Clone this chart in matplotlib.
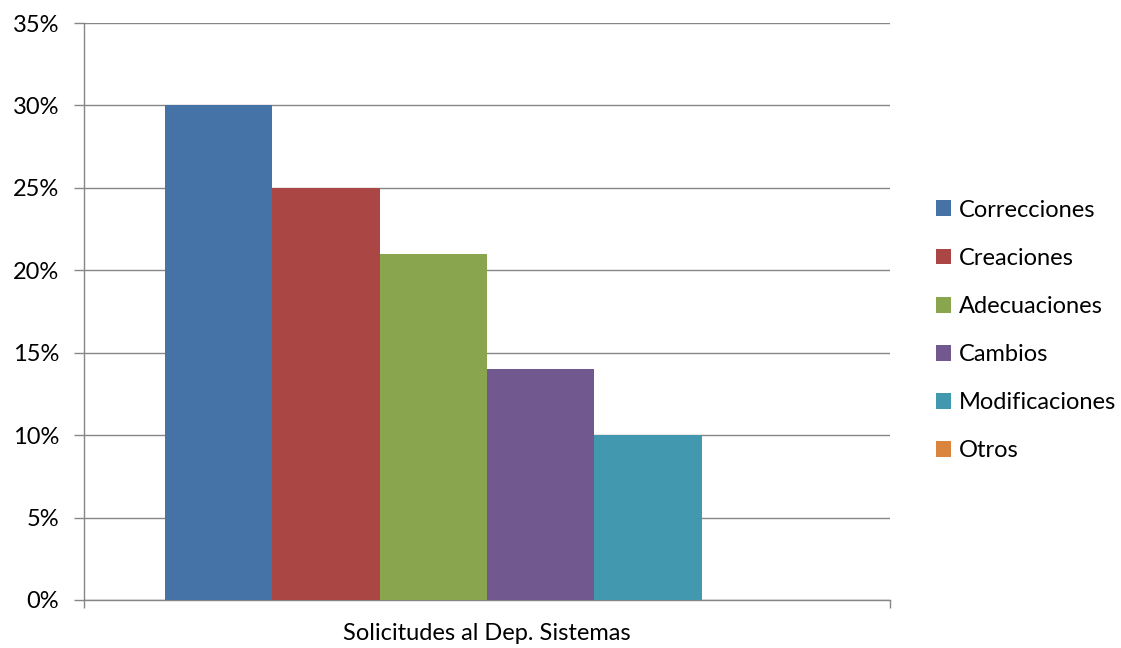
import matplotlib.pyplot as plt
from matplotlib.ticker import FuncFormatter

plt.rcParams['font.family'] = ['Lato', 'DejaVu Sans']

# datos del grafico
categoria = 'Solicitudes al Dep. Sistemas'
series = ['Correcciones', 'Creaciones', 'Adecuaciones', 'Cambios', 'Modificaciones', 'Otros']
valores = [0.30, 0.25, 0.21, 0.14, 0.10, 0.0]
colores = ['#4572A7', '#AA4643', '#89A54E', '#71588F', '#4198AF', '#DB843D']

fs = 17

fig = plt.figure(figsize=(11.21, 6.48), dpi=100)
ax = fig.add_axes([84 / 1121, 48 / 648, 806 / 1121, 577 / 648])

n = len(series)
ancho = 0.8 / n
for i in range(n):
    x = -0.4 + ancho * (i + 0.5)
    ax.bar(x, valores[i], width=ancho, color=colores[i], label=series[i], zorder=3)

ax.set_xlim(-0.5, 0.5)
ax.set_ylim(0, 0.35)
ax.set_yticks([i * 0.05 for i in range(8)])
ax.yaxis.set_major_formatter(FuncFormatter(lambda v, p: '%d%%' % round(v * 100)))
ax.grid(axis='y', color='#868686', linewidth=1, zorder=0)

ax.set_xticks([-0.5, 0.5])
ax.set_xticklabels(['', ''])
ax.tick_params(axis='x', length=6, color='#868686', width=1)
ax.tick_params(axis='y', length=7, color='#868686', width=1, labelsize=fs, pad=11)
ax.text(0.5, -33 / 577, categoria, ha='center', va='center', fontsize=fs,
        transform=ax.transAxes)

for s in ['top', 'right']:
    ax.spines[s].set_visible(False)
for s in ['left', 'bottom']:
    ax.spines[s].set_color('#868686')
    ax.spines[s].set_linewidth(1)

ax.legend(loc='center left', bbox_to_anchor=(1.045, 0.467), frameon=False,
          fontsize=fs, handlelength=0.65, handleheight=0.65, handletextpad=0.35,
          labelspacing=1.15, borderaxespad=0)

fig.savefig('out.png', dpi=100)
